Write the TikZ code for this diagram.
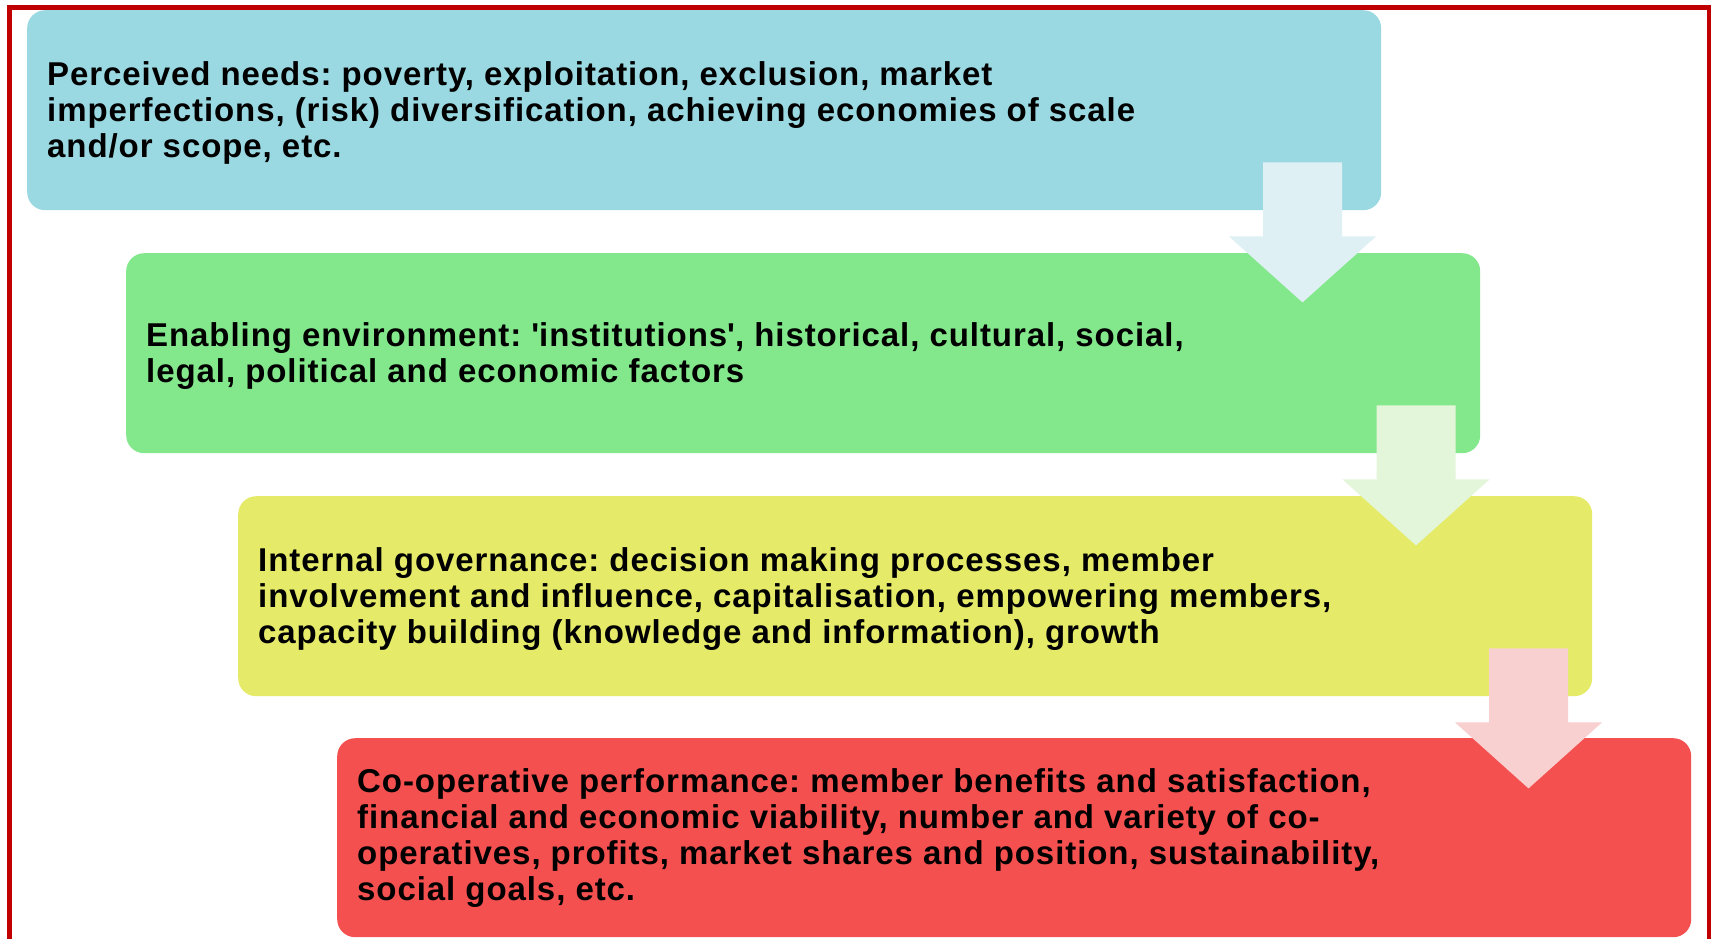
\documentclass[tikz,border=0pt]{standalone}
\usepackage{fontspec}
\setmainfont{Liberation Sans}[LetterSpace=2.8]
\usetikzlibrary{calc}

\definecolor{frameRed}{HTML}{C00000}
\definecolor{needsFill}{HTML}{9AD9E2}
\definecolor{envFill}{HTML}{83E78B}
\definecolor{govFill}{HTML}{E5EB69}
\definecolor{perfFill}{HTML}{F45050}
\definecolor{needsArrow}{HTML}{DFF0F4}
\definecolor{envArrow}{HTML}{E4F6D9}
\definecolor{govArrow}{HTML}{F9D0D0}

\tikzset{
  stagebox/.style={
    rectangle, rounded corners=18, draw=none,
    minimum width=1354, minimum height=200,
    anchor=north west, inner sep=0
  },
  stagetext/.style={
    anchor=west, inner sep=0, align=left,
    font=\frenchspacing\fontsize{33}{36}\selectfont\bfseries
  },
  % wide block arrow pointing down; origin at the middle of the shaft top
  downarrow/.pic={
    \fill[pic actions] (-39.5,0) -- (39.5,0) -- (39.5,74) -- (73.5,74)
      -- (0,140) -- (-73.5,74) -- (-39.5,74) -- cycle;
  }
}

\begin{document}
\begin{tikzpicture}[x=1pt,y=-1pt]
  \useasboundingbox (0,0) rectangle (1711,938);
  \fill[white] (0,0) rectangle (1711,938);

  % outer frame, open at the bottom
  \draw[frameRed, line width=4.5] (9.5,945) -- (9.5,7.5) -- (1709.5,7.5) -- (1709.5,945);

  % the four stages
  \node[stagebox, fill=needsFill] (needs) at (27,10) {};
  \node[stagebox, fill=envFill] (env) at (126,253) {};
  \node[stagebox, fill=govFill] (gov) at (238,496) {};
  \node[stagebox, fill=perfFill, minimum height=199] (perf) at (337,738) {};

  \node[stagetext] (needs-text) at ($(needs.west)+(20,3)$)
    {Perceived needs: poverty, exploitation, exclusion, market\\
     imperfections, (risk) diversification, achieving economies of scale\\
     and/or scope, etc.};
  \node[stagetext] (env-text) at ($(env.west)+(20,3)$)
    {Enabling environment: \textquotesingle institutions\textquotesingle, historical, cultural, social,\\
     legal, political and economic factors};
  \node[stagetext] (gov-text) at ($(gov.west)+(20,3)$)
    {Internal governance: decision making processes, member\\
     involvement and influence, capitalisation, empowering members,\\
     capacity building (knowledge and information), growth};
  \node[stagetext] (perf-text) at ($(perf.west)+(20,0)$)
    {Co-operative performance: member benefits and satisfaction,\\
     financial and economic viability, number and variety of co-\\
     operatives, profits, market shares and position, sustainability,\\
     social goals, etc.};

  % block arrows linking consecutive stages
  \pic[fill=needsArrow] at ($(needs.south west)+(1275.5,-48)$) {downarrow};
  \pic[fill=envArrow]   at ($(env.south west)+(1290,-48)$) {downarrow};
  \pic[fill=govArrow]   at ($(gov.south west)+(1290.5,-48)$) {downarrow};
\end{tikzpicture}
\end{document}
